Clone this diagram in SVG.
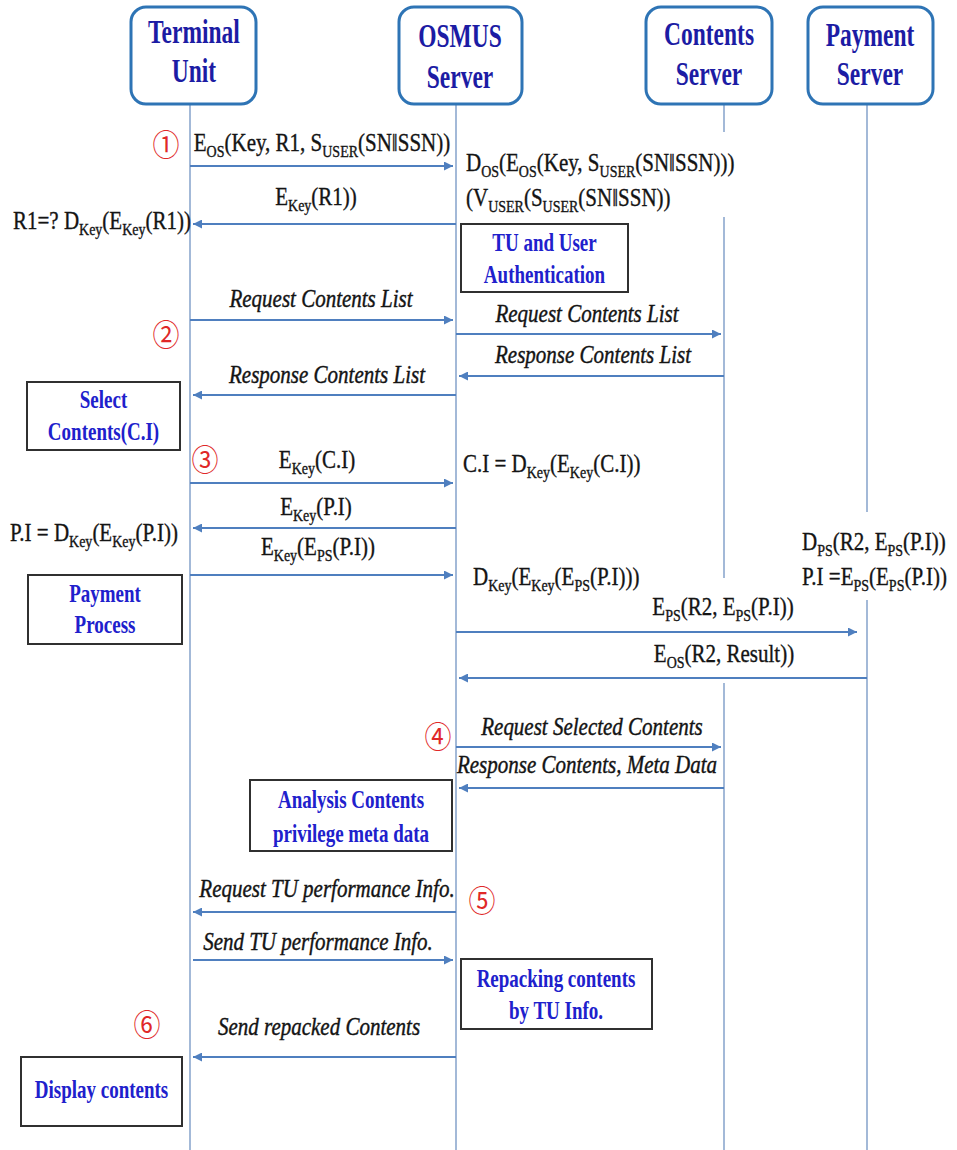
<svg xmlns="http://www.w3.org/2000/svg" width="957" height="1150" viewBox="0 0 957 1150">
  <style>
    .actor { fill: #ffffff; stroke: #2E74B5; stroke-width: 3; }
    .life { stroke: #8CA8CE; stroke-width: 1.6; fill: none; }
    .msg { stroke: #4F7FBF; stroke-width: 2; fill: none; marker-end: url(#ah); }
    .note { fill: #ffffff; stroke: #303030; stroke-width: 2; }
    .hd { font-family: "Liberation Serif", serif; font-weight: bold; font-size: 23.5px; fill: #1C1CA4; text-anchor: middle; }
    .bx { font-family: "Liberation Serif", serif; font-weight: bold; font-size: 19px; fill: #2020CC; text-anchor: middle; }
    .fm { font-family: "Liberation Serif", serif; font-size: 21px; fill: #141414; stroke: #141414; stroke-width: 0.3; }
    .it { font-family: "Liberation Serif", serif; font-style: italic; font-size: 21px; fill: #141414; stroke: #141414; stroke-width: 0.35; text-anchor: middle; }
    .mid { text-anchor: middle; }
    .sb { font-size: 14px; }
    .num { font-family: "Noto Sans CJK JP", "DejaVu Sans", sans-serif; font-size: 27px; fill: #E02828; text-anchor: middle; dominant-baseline: central; }
  </style>
  <defs>
    <marker id="ah" viewBox="0 0 10 10" refX="10" refY="5" markerWidth="10" markerHeight="9" markerUnits="userSpaceOnUse" orient="auto">
      <path d="M0,0 L10,5 L0,10 z" fill="#4F7FBF"/>
    </marker>
  </defs>
  <rect width="957" height="1150" fill="#ffffff"/>

  <!-- lifelines (gaps where labels sit on top of them) -->
  <g id="lifelines">
    <line class="life" x1="190" y1="105" x2="190" y2="1150"/>
    <line class="life" x1="456" y1="105" x2="456" y2="1150"/>
    <line class="life" x1="724" y1="105" x2="724" y2="132"/>
    <line class="life" x1="724" y1="217" x2="724" y2="578"/>
    <line class="life" x1="724" y1="683" x2="724" y2="1150"/>
    <line class="life" x1="867" y1="105" x2="867" y2="512"/>
    <line class="life" x1="867" y1="600" x2="867" y2="1150"/>
  </g>

  <!-- participants -->
  <g id="terminal-unit">
    <rect class="actor" x="131" y="7" width="125" height="97" rx="15"/>
    <text class="hd" transform="translate(194 43) scale(1 1.4)">Terminal</text>
    <text class="hd" transform="translate(194 82) scale(1 1.4)">Unit</text>
  </g>
  <g id="osmus-server">
    <rect class="actor" x="399" y="7" width="123" height="97" rx="15"/>
    <text class="hd" transform="translate(460 47) scale(1 1.4)">OSMUS</text>
    <text class="hd" transform="translate(460 88) scale(1 1.4)">Server</text>
  </g>
  <g id="contents-server">
    <rect class="actor" x="646" y="7" width="126" height="97" rx="15"/>
    <text class="hd" transform="translate(709 45) scale(1 1.4)">Contents</text>
    <text class="hd" transform="translate(709 85) scale(1 1.4)">Server</text>
  </g>
  <g id="payment-server">
    <rect class="actor" x="808" y="7" width="125" height="97" rx="15"/>
    <text class="hd" transform="translate(870 46) scale(1 1.4)">Payment</text>
    <text class="hd" transform="translate(870 85) scale(1 1.4)">Server</text>
  </g>

  <!-- messages -->
  <g id="connectors">
    <line class="msg" x1="190" y1="166" x2="453" y2="166"/>
    <line class="msg" x1="456" y1="224" x2="193" y2="224"/>
    <line class="msg" x1="190" y1="320" x2="453" y2="320"/>
    <line class="msg" x1="456" y1="334" x2="721" y2="334"/>
    <line class="msg" x1="724" y1="376" x2="459" y2="376"/>
    <line class="msg" x1="456" y1="395" x2="193" y2="395"/>
    <line class="msg" x1="190" y1="483" x2="453" y2="483"/>
    <line class="msg" x1="456" y1="528" x2="193" y2="528"/>
    <line class="msg" x1="190" y1="575" x2="453" y2="575"/>
    <line class="msg" x1="456" y1="632" x2="857" y2="632"/>
    <line class="msg" x1="867" y1="678" x2="459" y2="678"/>
    <line class="msg" x1="456" y1="747" x2="721" y2="747"/>
    <line class="msg" x1="724" y1="788" x2="459" y2="788"/>
    <line class="msg" x1="456" y1="912" x2="193" y2="912"/>
    <line class="msg" x1="193" y1="960" x2="453" y2="960"/>
    <line class="msg" x1="456" y1="1057" x2="193" y2="1057"/>
  </g>

  <!-- message labels and computations -->
  <g id="labels">
    <text class="fm mid" transform="translate(322 151) scale(1 1.22)">E<tspan class="sb" dy="5">OS</tspan><tspan dy="-5">(Key, R1, S</tspan><tspan class="sb" dy="5">USER</tspan><tspan dy="-5">(SN‖SSN))</tspan></text>
    <text class="fm mid" transform="translate(316 205) scale(1 1.22)">E<tspan class="sb" dy="5">Key</tspan><tspan dy="-5">(R1))</tspan></text>
    <text class="fm" transform="translate(466 171) scale(1 1.22)">D<tspan class="sb" dy="5">OS</tspan><tspan dy="-5">(E</tspan><tspan class="sb" dy="5">OS</tspan><tspan dy="-5">(Key, S</tspan><tspan class="sb" dy="5">USER</tspan><tspan dy="-5">(SN‖SSN)))</tspan></text>
    <text class="fm" transform="translate(466 206) scale(1 1.22)">(V<tspan class="sb" dy="5">USER</tspan><tspan dy="-5">(S</tspan><tspan class="sb" dy="5">USER</tspan><tspan dy="-5">(SN‖SSN))</tspan></text>
    <text class="fm" transform="translate(13 229) scale(1 1.22)">R1=? D<tspan class="sb" dy="5">Key</tspan><tspan dy="-5">(E</tspan><tspan class="sb" dy="5">Key</tspan><tspan dy="-5">(R1))</tspan></text>

    <text class="it" transform="translate(321 307) scale(1 1.2)">Request Contents List</text>
    <text class="it" transform="translate(587 322) scale(1 1.2)">Request Contents List</text>
    <text class="it" transform="translate(593 363) scale(1 1.2)">Response Contents List</text>
    <text class="it" transform="translate(327 383) scale(1 1.2)">Response Contents List</text>

    <text class="fm mid" transform="translate(317 468) scale(1 1.22)">E<tspan class="sb" dy="5">Key</tspan><tspan dy="-5">(C.I)</tspan></text>
    <text class="fm" transform="translate(463 472) scale(1 1.22)">C.I  = D<tspan class="sb" dy="5">Key</tspan><tspan dy="-5">(E</tspan><tspan class="sb" dy="5">Key</tspan><tspan dy="-5">(C.I))</tspan></text>
    <text class="fm mid" transform="translate(316 515) scale(1 1.22)">E<tspan class="sb" dy="5">Key</tspan><tspan dy="-5">(P.I)</tspan></text>
    <text class="fm" transform="translate(10 541) scale(1 1.22)">P.I = D<tspan class="sb" dy="5">Key</tspan><tspan dy="-5">(E</tspan><tspan class="sb" dy="5">Key</tspan><tspan dy="-5">(P.I))</tspan></text>
    <text class="fm mid" transform="translate(318 555) scale(1 1.22)">E<tspan class="sb" dy="5">Key</tspan><tspan dy="-5">(E</tspan><tspan class="sb" dy="5">PS</tspan><tspan dy="-5">(P.I))</tspan></text>
    <text class="fm" transform="translate(473 585) scale(1 1.22)">D<tspan class="sb" dy="5">Key</tspan><tspan dy="-5">(E</tspan><tspan class="sb" dy="5">Key</tspan><tspan dy="-5">(E</tspan><tspan class="sb" dy="5">PS</tspan><tspan dy="-5">(P.I)))</tspan></text>
    <text class="fm" transform="translate(802 550) scale(1 1.22)">D<tspan class="sb" dy="5">PS</tspan><tspan dy="-5">(R2, E</tspan><tspan class="sb" dy="5">PS</tspan><tspan dy="-5">(P.I))</tspan></text>
    <text class="fm" transform="translate(802 585) scale(1 1.22)">P.I =E<tspan class="sb" dy="5">PS</tspan><tspan dy="-5">(E</tspan><tspan class="sb" dy="5">PS</tspan><tspan dy="-5">(P.I))</tspan></text>
    <text class="fm mid" transform="translate(723 615) scale(1 1.22)">E<tspan class="sb" dy="5">PS</tspan><tspan dy="-5">(R2, E</tspan><tspan class="sb" dy="5">PS</tspan><tspan dy="-5">(P.I))</tspan></text>
    <text class="fm mid" transform="translate(724 662) scale(1 1.22)">E<tspan class="sb" dy="5">OS</tspan><tspan dy="-5">(R2, Result))</tspan></text>

    <text class="it" transform="translate(592 735) scale(1 1.2)">Request Selected Contents</text>
    <text class="it" transform="translate(587 773) scale(1 1.2)">Response Contents, Meta Data</text>
    <text class="it" transform="translate(327 897) scale(1 1.2)">Request TU performance Info.</text>
    <text class="it" transform="translate(318 950) scale(1 1.2)">Send TU performance Info.</text>
    <text class="it" transform="translate(319 1035) scale(1 1.2)">Send repacked Contents</text>
  </g>

  <!-- step numbers -->
  <g id="steps">
    <text class="num" transform="translate(166 143) scale(1 1.12)">①</text>
    <text class="num" transform="translate(166 333) scale(1 1.12)">②</text>
    <text class="num" transform="translate(205 458) scale(1 1.12)">③</text>
    <text class="num" transform="translate(438 735) scale(1 1.12)">④</text>
    <text class="num" transform="translate(482 899) scale(1 1.12)">⑤</text>
    <text class="num" transform="translate(147 1023) scale(1 1.12)">⑥</text>
  </g>

  <!-- processing boxes -->
  <g id="tu-user-authentication">
    <rect class="note" x="461" y="224" width="167" height="68"/>
    <text class="bx" transform="translate(544.5 251) scale(1 1.3)">TU and User</text>
    <text class="bx" transform="translate(544.5 283) scale(1 1.3)">Authentication</text>
  </g>
  <g id="select-contents">
    <rect class="note" x="27" y="382" width="153" height="68"/>
    <text class="bx" transform="translate(103.5 408) scale(1 1.3)">Select</text>
    <text class="bx" transform="translate(103.5 440) scale(1 1.3)">Contents(C.I)</text>
  </g>
  <g id="payment-process">
    <rect class="note" x="28" y="575" width="154" height="69"/>
    <text class="bx" transform="translate(105 602) scale(1 1.3)">Payment</text>
    <text class="bx" transform="translate(105 633) scale(1 1.3)">Process</text>
  </g>
  <g id="analysis-contents">
    <rect class="note" x="250" y="780" width="202" height="71"/>
    <text class="bx" transform="translate(351 808) scale(1 1.3)">Analysis Contents</text>
    <text class="bx" transform="translate(351 842) scale(1 1.3)">privilege meta data</text>
  </g>
  <g id="repacking-contents">
    <rect class="note" x="461" y="959" width="191" height="70"/>
    <text class="bx" transform="translate(556 987) scale(1 1.3)">Repacking contents</text>
    <text class="bx" transform="translate(556 1019) scale(1 1.3)">by TU Info.</text>
  </g>
  <g id="display-contents">
    <rect class="note" x="21" y="1057" width="161" height="69"/>
    <text class="bx" transform="translate(101.5 1098) scale(1 1.3)">Display contents</text>
  </g>
</svg>
